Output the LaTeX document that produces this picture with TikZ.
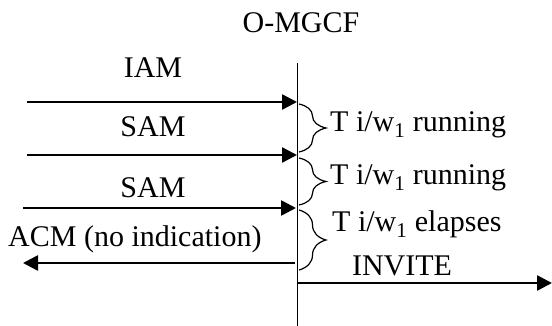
\documentclass[tikz,border=0pt]{standalone}
\usepackage{fontspec}
\setmainfont{Liberation Serif}
\usetikzlibrary{arrows.meta,decorations.pathreplacing}
\begin{document}
\begin{tikzpicture}[x=1pt,y=-1pt,
  lbl/.style={inner sep=0pt,font=\fontsize{30}{36}\selectfont},
  msg/.style={line width=2.6pt,-{Triangle[length=15pt,width=15pt]}},
  life/.style={line width=1pt},
  brc/.style={decorate,decoration={brace,amplitude=27pt},line width=1.2pt}]
\useasboundingbox (0,0) rectangle (552,326);
% lifeline
\node[lbl,anchor=base] (om) at (301,33) {O-MGCF};
\coordinate (ltop) at (297,63);
\coordinate (lbot) at (297,326);
\draw[life] (ltop) -- (lbot);
% messages
\coordinate (a1) at (27,102);  \coordinate (b1) at (297,102);
\coordinate (a2) at (27,155);  \coordinate (b2) at (297,155);
\coordinate (a3) at (23,208);  \coordinate (b3) at (296,208);
\coordinate (a4) at (295,263); \coordinate (b4) at (23,263);
\coordinate (a5) at (297,283); \coordinate (b5) at (552,283);
\draw[msg] (a1) -- (b1);
\draw[msg] (a2) -- (b2);
\draw[msg] (a3) -- (b3);
\draw[msg] (a4) -- (b4);
\draw[msg] (a5) -- (b5);
\node[lbl,anchor=base] (iam) at (153,78) {IAM};
\node[lbl,anchor=base] (sam1) at (153,137) {SAM};
\node[lbl,anchor=base] (sam2) at (153,197) {SAM};
\node[lbl,anchor=base west] (acm) at (8,247) {ACM (no indication)};
\node[lbl,anchor=base] (inv) at (402,275) {INVITE};
% braces
\coordinate (c1) at (299,104); \coordinate (d1) at (299,152);
\coordinate (c2) at (299,158); \coordinate (d2) at (299,205);
\coordinate (c3) at (299,210); \coordinate (d3) at (299,270);
\draw[brc] (c1) -- (d1);
\draw[brc] (c2) -- (d2);
\draw[brc] (c3) -- (d3);
\node[lbl,anchor=base west] (t1) at (330,132) {T i/w\textsubscript{1} running};
\node[lbl,anchor=base west] (t2) at (330,185) {T i/w\textsubscript{1} running};
\node[lbl,anchor=base west] (t3) at (332,232) {T i/w\textsubscript{1} elapses};
\end{tikzpicture}
\end{document}
